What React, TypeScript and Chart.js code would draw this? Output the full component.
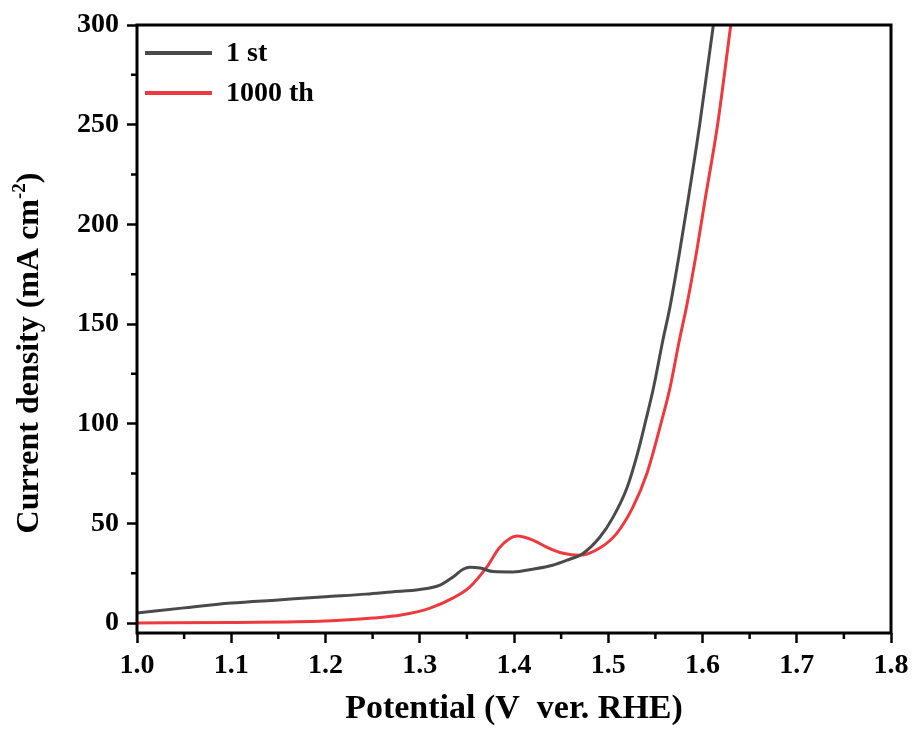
import React, { useEffect, useRef } from "react";
import { Chart, registerables } from "chart.js";

Chart.register(...registerables);

const V_FIRST = [1.0, 1.05, 1.1, 1.15, 1.2, 1.243, 1.27, 1.3, 1.3215, 1.335, 1.346, 1.353, 1.364, 1.378, 1.399, 1.42, 1.441, 1.459, 1.472, 1.491, 1.505, 1.52, 1.531, 1.54, 1.548, 1.558, 1.5655, 1.576, 1.5846, 1.597, 1.6115];
const J_FIRST = [5, 7.6, 10, 11.6, 13.2, 14.5, 15.6, 16.8, 19, 23, 27, 28, 27.6, 25.8, 25.6, 27, 29, 32, 34.5, 43, 53, 68, 85, 102, 118, 142, 158.6, 187, 212, 250, 300];

const V_1000 = [1.0, 1.1, 1.2, 1.25, 1.28, 1.311, 1.335, 1.353, 1.371, 1.385, 1.403, 1.42, 1.435, 1.452, 1.47, 1.491, 1.509, 1.526, 1.541, 1.557, 1.5655, 1.5755, 1.583, 1.594, 1.6026, 1.616, 1.63];
const J_1000 = [0, 0.3, 1, 2.5, 4, 7.5, 12.5, 18, 28, 38, 43.6, 41.6, 38, 35, 34, 37.6, 45, 58, 75, 102, 118, 142, 158.6, 187, 212, 250, 300];

const SERIES_LABELS = ["1 st", "1000 th"];
const X_TICKS = [1.0, 1.1, 1.2, 1.3, 1.4, 1.5, 1.6, 1.7, 1.8];
const X_MINOR = [1.05, 1.15, 1.25, 1.35, 1.45, 1.55, 1.65, 1.75];
const Y_TICKS = [0, 50, 100, 150, 200, 250, 300];
const Y_MINOR = [25, 75, 125, 175, 225, 275];

const FONT = "'Liberation Serif', 'Times New Roman', serif";
const GREY = "#4a4a4a";
const RED = "#ec3a3f";

const framePlugin = {
  id: "frameAndExtras",
  afterDraw(chart: any) {
    const { ctx, chartArea } = chart;
    const { left, right, top, bottom } = chartArea;
    const xs = chart.scales.x;
    const ys = chart.scales.y;
    ctx.save();
    // minor ticks
    ctx.strokeStyle = "#000";
    ctx.lineWidth = 2.5;
    ctx.beginPath();
    X_MINOR.forEach((v) => {
      const px = xs.getPixelForValue(v);
      ctx.moveTo(px, bottom);
      ctx.lineTo(px, bottom + 6);
    });
    Y_MINOR.forEach((v) => {
      const py = ys.getPixelForValue(v);
      ctx.moveTo(left, py);
      ctx.lineTo(left - 6, py);
    });
    ctx.stroke();
    // frame
    ctx.lineWidth = 3;
    ctx.strokeRect(left, top, right - left, bottom - top);

    // legend
    const ds = chart.data.datasets;
    ctx.font = `bold 28px ${FONT}`;
    ctx.textBaseline = "middle";
    ctx.textAlign = "left";
    const rows = [53, 93];
    ds.forEach((d: any, i: number) => {
      ctx.strokeStyle = d.borderColor;
      ctx.lineWidth = 4;
      ctx.beginPath();
      ctx.moveTo(145, rows[i]);
      ctx.lineTo(212, rows[i]);
      ctx.stroke();
      ctx.fillStyle = "#000";
      ctx.fillText(d.label, 226, rows[i] + 1);
    });

    // y title with superscript
    const main = "Current density (mA cm";
    const sup = "-2";
    const end = ")";
    ctx.fillStyle = "#000";
    ctx.font = `bold 32px ${FONT}`;
    const w1 = ctx.measureText(main).width;
    const w3 = ctx.measureText(end).width;
    ctx.font = `bold 19px ${FONT}`;
    const w2 = ctx.measureText(sup).width;
    const total = w1 + w2 + w3;
    ctx.translate(30, (top + bottom) / 2 + 24);
    ctx.rotate(-Math.PI / 2);
    let x0 = -total / 2;
    ctx.font = `bold 32px ${FONT}`;
    ctx.textBaseline = "middle";
    ctx.fillText(main, x0, 0);
    x0 += w1;
    ctx.font = `bold 19px ${FONT}`;
    ctx.fillText(sup, x0, -10);
    x0 += w2;
    ctx.font = `bold 32px ${FONT}`;
    ctx.fillText(end, x0, 0);
    ctx.restore();
  },
};

export default function App() {
  const ref = useRef<HTMLCanvasElement | null>(null);

  useEffect(() => {
    document.body.style.margin = "0";
    const canvas = ref.current;
    if (!canvas) return;
    const chart = new Chart(canvas, {
      type: "line",
      data: {
        datasets: [
          {
            label: SERIES_LABELS[0],
            data: V_FIRST.map((v, i) => ({ x: v, y: J_FIRST[i] })),
            borderColor: GREY,
            borderWidth: 3,
            pointRadius: 0,
            cubicInterpolationMode: "monotone",
            fill: false,
          },
          {
            label: SERIES_LABELS[1],
            data: V_1000.map((v, i) => ({ x: v, y: J_1000[i] })),
            borderColor: RED,
            borderWidth: 3,
            pointRadius: 0,
            cubicInterpolationMode: "monotone",
            fill: false,
          },
        ],
      },
      options: {
        animation: false,
        responsive: false,
        events: [],
        layout: { padding: { top: 25, right: 26, left: 0, bottom: 0 } },
        plugins: { legend: { display: false }, tooltip: { enabled: false } },
        scales: {
          x: {
            type: "linear",
            min: 1.0,
            max: 1.8,
            afterBuildTicks: (s: any) => {
              s.ticks = X_TICKS.map((v) => ({ value: v }));
            },
            afterFit: (s: any) => {
              s.height = 103;
            },
            ticks: {
              autoSkip: false,
              maxRotation: 0,
              padding: 6,
              color: "#000",
              font: { family: FONT, size: 28, weight: "bold" },
              callback: (v: any) => Number(v).toFixed(1),
            },
            grid: {
              drawOnChartArea: false,
              drawTicks: true,
              tickLength: 10,
              tickWidth: 2.5,
              tickColor: "#000",
            },
            border: { display: false },
            title: {
              display: true,
              text: "Potential (V  ver. RHE)",
              color: "#000",
              font: { family: FONT, size: 34, weight: "bold" },
              padding: { top: 0, bottom: 6 },
            },
          },
          y: {
            type: "linear",
            min: -5,
            max: 300,
            afterBuildTicks: (s: any) => {
              s.ticks = Y_TICKS.map((v) => ({ value: v }));
            },
            afterFit: (s: any) => {
              s.width = 137;
            },
            ticks: {
              autoSkip: false,
              padding: 8,
              color: "#000",
              font: { family: FONT, size: 28, weight: "bold" },
              callback: (v: any) => String(v),
            },
            grid: {
              drawOnChartArea: false,
              drawTicks: true,
              tickLength: 10,
              tickWidth: 2.5,
              tickColor: "#000",
            },
            border: { display: false },
          },
        },
      },
      plugins: [framePlugin],
    } as any);
    return () => chart.destroy();
  }, []);

  return (
    <div style={{ width: 917, height: 736 }}>
      <canvas ref={ref} width={917} height={736} style={{ display: "block" }} />
    </div>
  );
}
